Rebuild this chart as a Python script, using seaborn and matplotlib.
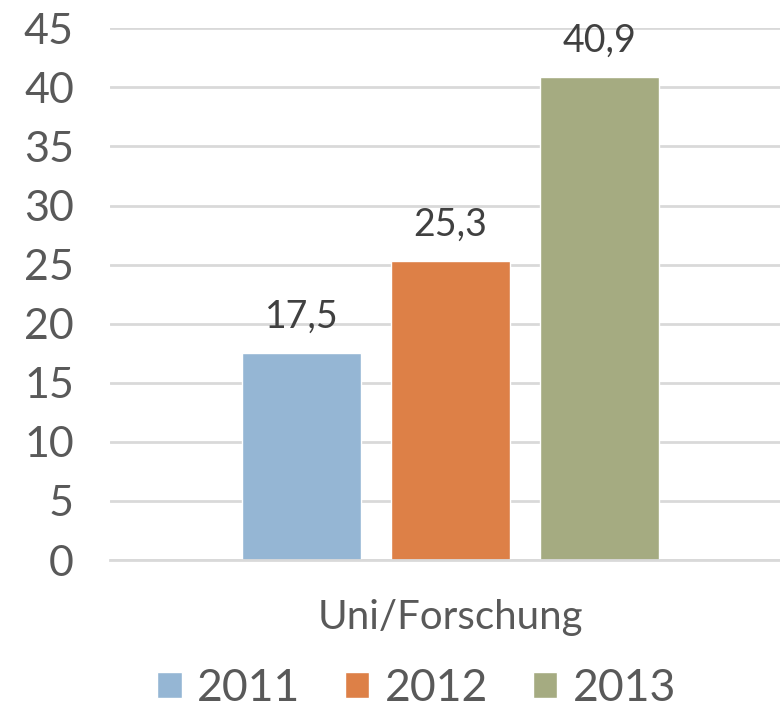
import pandas as pd
import matplotlib
matplotlib.use('Agg')
import matplotlib.pyplot as plt
import seaborn as sns

years = ['2011', '2012', '2013']
values = [17.5, 25.3, 40.9]
category = ['Uni/Forschung'] * 3
colors = ['#95B6D4', '#DD8047', '#A5AB81']

df = pd.DataFrame({'Bereich': category, 'Jahr': years, 'Wert': values})

sns.set_style('white')
plt.rcParams['font.family'] = ['Lato', 'DejaVu Sans']

fig = plt.figure(figsize=(7.8, 7.08), dpi=100)
ax = fig.add_axes([0.141, 0.209, 0.859, 0.751])

sns.barplot(data=df, x='Bereich', y='Wert', hue='Jahr', palette=colors,
            width=1.0, gap=0.2, saturation=1, ax=ax, legend=True)

ax.set_xlim(-0.762, 0.738)
ax.set_ylim(0, 45)
ax.set_yticks(range(0, 46, 5))
ax.yaxis.grid(True, color='#D9D9D9', linewidth=2)
ax.set_axisbelow(True)
for s in ['top', 'right', 'left']:
    ax.spines[s].set_visible(False)
ax.spines['bottom'].set_color('#D9D9D9')
ax.spines['bottom'].set_linewidth(2)
ax.tick_params(axis='y', length=0, pad=26, labelsize=31, labelcolor='#595959')
ax.tick_params(axis='x', length=0, pad=28, labelsize=29, labelcolor='#595959')
ax.set_xlabel('')
ax.set_ylabel('')

for c in ax.containers:
    ax.bar_label(c, labels=[f'{v:.1f}'.replace('.', ',') for v in c.datavalues],
                 padding=13, fontsize=27, color='#404040')

handles, labels = ax.get_legend_handles_labels()
ax.get_legend().remove()
fig.legend(handles, labels, loc='center', bbox_to_anchor=(0.534, 0.028), ncol=3,
           frameon=False, fontsize=32, labelcolor='#595959', handlelength=0.55,
           handleheight=0.55, handletextpad=0.35, columnspacing=1.0)

fig.savefig('out.png', dpi=100)
